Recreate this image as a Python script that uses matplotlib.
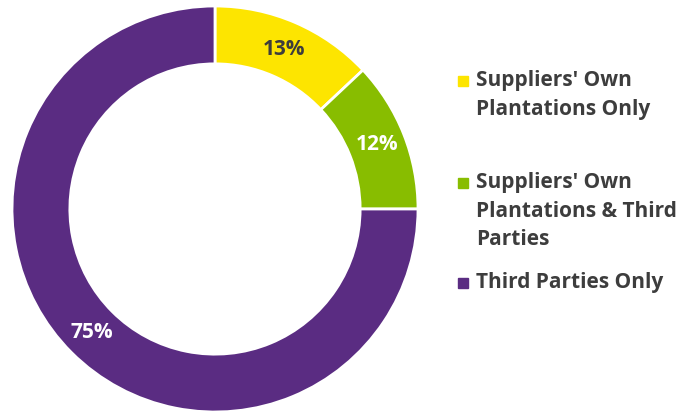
import matplotlib; matplotlib.use("Agg")
import matplotlib.pyplot as plt
from matplotlib.patches import Rectangle
import numpy as np

labels = ["Suppliers' Own\nPlantations Only", "Suppliers' Own\nPlantations & Third\nParties", "Third Parties Only"]
shares = [13, 12, 75]
colors = ["#FDE500", "#88BD00", "#5A2C82"]
pct_colors = ["#3D3D3D", "white", "white"]

plt.rcParams['font.family'] = ['Open Sans', 'DejaVu Sans']
TXT = "#3D3D3D"

fig = plt.figure(figsize=(6.77, 4.15), dpi=100)
W, H = 677, 415
cx, cy, R = 215, 209, 203
ax = fig.add_axes([(cx - R) / W, (H - cy - R) / H, 2 * R / W, 2 * R / H])
wedges, _ = ax.pie(shares, colors=colors, startangle=90, counterclock=False, radius=1,
                   wedgeprops=dict(width=0.285, edgecolor="white", linewidth=2))
ax.set_xlim(-1, 1); ax.set_ylim(-1, 1); ax.set_aspect("equal"); ax.axis("off")

# percentage labels at ring middle
start = 90.0
for s, c in zip(shares, pct_colors):
    mid = np.deg2rad(start - s * 360 / 100 / 2)
    r = 0.857
    ax.text(r * np.cos(mid), r * np.sin(mid), f"{s}%", ha="center", va="center",
            fontsize=15, fontweight="bold", color=c)
    start -= s * 360 / 100

# legend drawn by hand
leg_y = [81, 183, 283]
for lab, col, y in zip(labels, colors, leg_y):
    fig.patches.append(Rectangle((458 / W, (H - y - 5) / H), 10 / W, 10 / H,
                                 transform=fig.transFigure, color=col))
    fig.text(476 / W, (H - y + 11) / H, lab, ha="left", va="top", fontsize=15,
             fontweight="bold", color=TXT, linespacing=1.48)

fig.savefig("out.png", dpi=100)
